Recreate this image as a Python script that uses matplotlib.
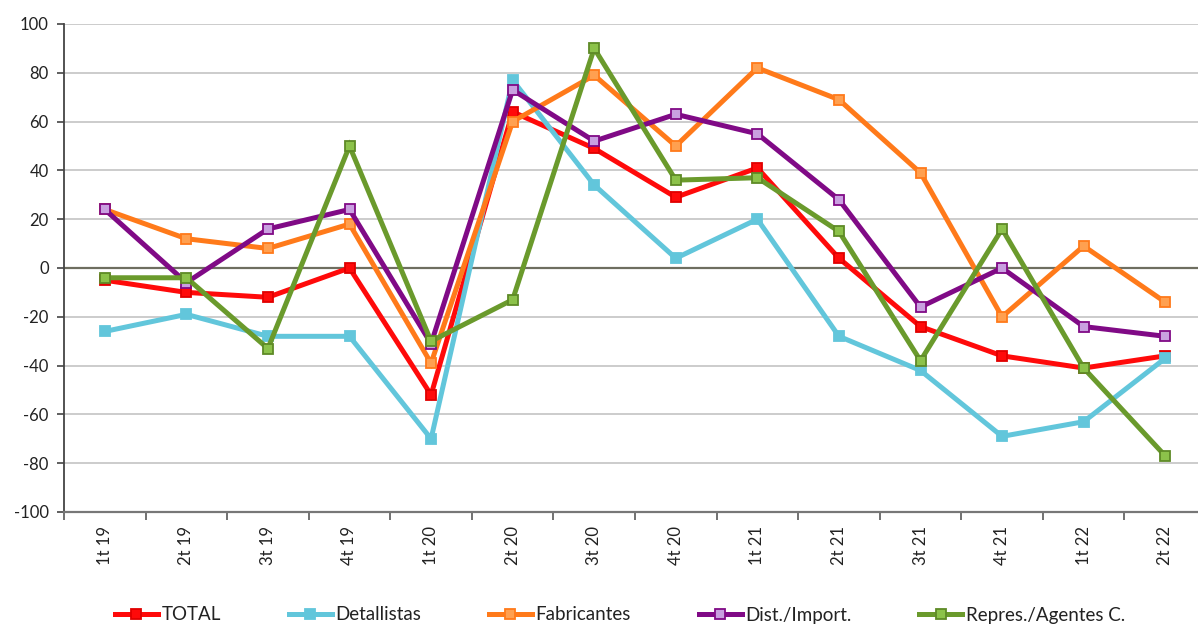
import matplotlib
matplotlib.use("Agg")
import matplotlib.pyplot as plt
import numpy as np

categories = ["1t 19", "2t 19", "3t 19", "4t 19", "1t 20", "2t 20", "3t 20", "4t 20",
              "1t 21", "2t 21", "3t 21", "4t 21", "1t 22", "2t 22"]
total = [-5, -10, -12, 0, -52, 64, 49, 29, 41, 4, -24, -36, -41, -36]
detallistas = [-26, -19, -28, -28, -70, 77, 34, 4, 20, -28, -42, -69, -63, -37]
fabricantes = [24, 12, 8, 18, -39, 60, 79, 50, 82, 69, 39, -20, 9, -14]
dist_import = [24, -6, 16, 24, -31, 73, 52, 63, 55, 28, -16, 0, -24, -28]
repres = [-4, -4, -33, 50, -30, -13, 90, 36, 37, 15, -38, 16, -41, -77]
yticks = [-100, -80, -60, -40, -20, 0, 20, 40, 60, 80, 100]

series = [
    ("TOTAL", total, "#FF0A0A", "#FF0A0A", "#E00000"),
    ("Detallistas", detallistas, "#62C6DB", "#62C6DB", "#62C6DB"),
    ("Fabricantes", fabricantes, "#FF7A1A", "#FFA050", "#FF7A1A"),
    ("Dist./Import.", dist_import, "#800A86", "#C9A0E0", "#800A86"),
    ("Repres./Agentes C.", repres, "#6A9A2C", "#8CC24A", "#5E8A26"),
]

plt.rcParams['font.family'] = ['Lato', 'DejaVu Sans']
fig = plt.figure(figsize=(11.98, 6.31), dpi=100)
ax = fig.add_axes([64/1198, (631-512)/631, (1206-64)/1198, (512-24)/631])

x = np.arange(len(categories))
for name, vals, lc, mfc, mec in series:
    ax.plot(x, vals, color=lc, lw=3.6, marker="s", markersize=7.5,
            markerfacecolor=mfc, markeredgecolor=mec, markeredgewidth=1.3,
            label=name, solid_joinstyle="miter")

ax.set_xlim(-0.5, len(categories) - 0.5)
ax.set_ylim(-100, 100)
ax.set_yticks(yticks)
ax.set_yticklabels([str(v) for v in yticks], fontsize=12, color="#222222")
for v in yticks:
    if v == 0:
        ax.axhline(v, color="#6E6E60", lw=1.6, zorder=0.5)
    elif v != -100:
        ax.axhline(v, color="#C8C8C8", lw=1.3, zorder=0.5)

ax.set_xticks(x)
ax.set_xticklabels(categories, rotation=90, fontsize=12, color="#222222")
ax.set_xticks(np.arange(-0.5, len(categories), 1.0), minor=True)
ax.tick_params(axis="x", which="major", length=0, pad=10)
ax.tick_params(axis="x", which="minor", length=6, width=1.3, color="#666666", direction="out")
ax.tick_params(axis="y", length=5, width=1.2, color="#444444", direction="out", pad=6)

for s in ["top", "right"]:
    ax.spines[s].set_visible(False)
ax.spines["left"].set_color("#444444")
ax.spines["left"].set_linewidth(1.3)
ax.spines["bottom"].set_color("#777777")
ax.spines["bottom"].set_linewidth(1.6)

leg = fig.legend(loc="center", bbox_to_anchor=(620/1198, 1 - 615/631), ncol=5,
                 frameon=False, fontsize=13.5, handlelength=2.3, handletextpad=0.2,
                 columnspacing=3.6, markerscale=1.0)
for t in leg.get_texts():
    t.set_color("#222222")

fig.savefig("out.png", dpi=100)
